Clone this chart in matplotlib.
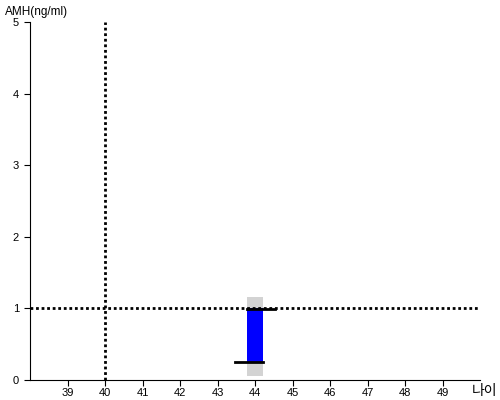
import matplotlib.pyplot as plt
from matplotlib.patches import Rectangle

plt.rcParams['font.family'] = ['Liberation Sans', 'Noto Sans CJK KR', 'DejaVu Sans']

# data
x_ticks = [39, 40, 41, 42, 43, 44, 45, 46, 47, 48, 49]
y_ticks = [0, 1, 2, 3, 4, 5]
ref_age = 40
ref_amh = 1.0
age = 44
range_low, range_high = 0.06, 1.16   # gray band
amh_low, amh_high = 0.25, 1.0         # blue bar
low_line = (43.47, 44.2)
high_line = (43.78, 44.53)

fig = plt.figure(figsize=(5, 4), dpi=100)
ax = fig.add_axes([0.06, 0.05, 0.9, 0.895])

w = 0.43
ax.add_patch(Rectangle((age - w / 2, range_low), w, range_high - range_low,
                       color='#d3d3d3', lw=0, zorder=1))
ax.add_patch(Rectangle((age - w / 2, amh_low), w, amh_high - amh_low,
                       color='#0000ff', lw=0, zorder=2))
ax.plot(low_line, [amh_low, amh_low], color='black', lw=2, zorder=3)
ax.plot(high_line, [amh_high - 0.01, amh_high - 0.01], color='black', lw=2, zorder=3)

ax.axvline(ref_age, color='black', ls=(0, (1, 1)), lw=2, zorder=2)
ax.axhline(ref_amh, color='black', ls=(0, (1, 1)), lw=2, zorder=2)

ax.set_xlim(38, 50)
ax.set_ylim(0, 5)
ax.set_xticks(x_ticks)
ax.set_yticks(y_ticks)
ax.tick_params(labelsize=8, length=4, colors='black')
ax.tick_params(axis='x', pad=1.5)
ax.tick_params(axis='y', pad=4)
for s in ['top', 'right']:
    ax.spines[s].set_visible(False)

fig.text(0.01, 0.985, 'AMH(ng/ml)', fontsize=8.5, va='top', ha='left')
fig.text(0.944, 0.004, '나이', fontsize=10, va='bottom', ha='left')

fig.savefig('out.png', dpi=100)
